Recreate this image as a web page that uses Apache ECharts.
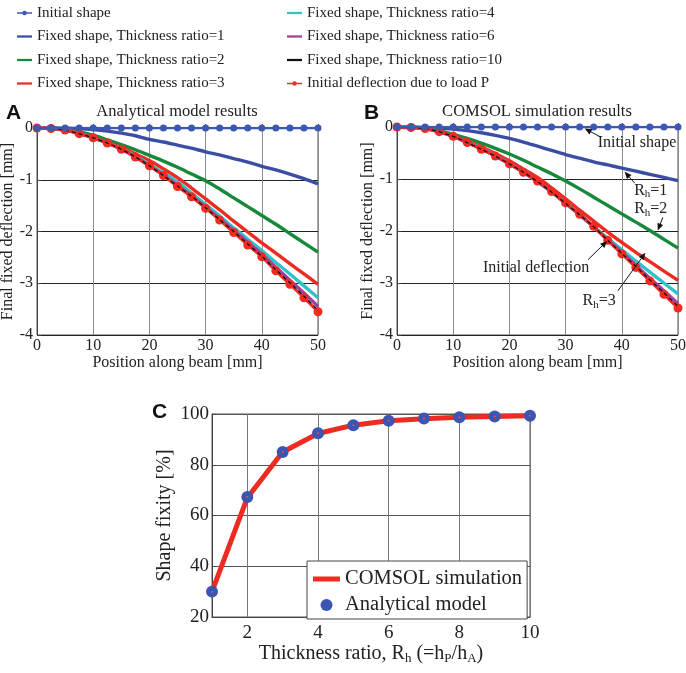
<!DOCTYPE html>
<html>
<head>
<meta charset="utf-8">
<title>Shape fixity</title>
<script src="https://cdn.jsdelivr.net/npm/echarts@6/dist/echarts.min.js"></script>
<style>
  html, body { margin: 0; padding: 0; background: #fff; }
  #chart { width: 686px; height: 673px; }
</style>
</head>
<body>
<div id="chart"></div>
<script>
// ---- data ----
var positions = [0, 2.5, 5, 7.5, 10, 12.5, 15, 17.5, 20, 22.5, 25, 27.5, 30, 32.5, 35, 37.5, 40, 42.5, 45, 47.5, 50];

var seriesNames = [
  'Initial shape',
  'Fixed shape, Thickness ratio=1',
  'Fixed shape, Thickness ratio=2',
  'Fixed shape, Thickness ratio=3',
  'Fixed shape, Thickness ratio=4',
  'Fixed shape, Thickness ratio=6',
  'Fixed shape, Thickness ratio=10',
  'Initial deflection due to load P'
];

// panel A : analytical model
var initialShapeA = [0, 0, 0, 0, 0, 0, 0, 0, 0, 0, 0, 0, 0, 0, 0, 0, 0, 0, 0, 0, 0];
var ratio1A  = [0, 0, 0, -0.01, -0.03, -0.06, -0.10, -0.15, -0.22, -0.27, -0.33, -0.39, -0.46, -0.52, -0.59, -0.66, -0.74, -0.81, -0.89, -0.98, -1.08];
var ratio2A  = [0, 0, -0.02, -0.07, -0.14, -0.23, -0.32, -0.42, -0.53, -0.64, -0.76, -0.89, -1.02, -1.18, -1.35, -1.52, -1.69, -1.86, -2.04, -2.22, -2.40];
var ratio3A  = [0, -0.01, -0.04, -0.10, -0.18, -0.27, -0.38, -0.50, -0.63, -0.79, -0.96, -1.16, -1.37, -1.58, -1.80, -2.01, -2.22, -2.42, -2.62, -2.82, -3.02];
var ratio4A  = [0, -0.01, -0.04, -0.10, -0.19, -0.29, -0.40, -0.54, -0.70, -0.87, -1.04, -1.26, -1.48, -1.70, -1.93, -2.15, -2.37, -2.60, -2.82, -3.05, -3.28];
var ratio6A  = [0, -0.01, -0.04, -0.11, -0.19, -0.29, -0.41, -0.56, -0.73, -0.91, -1.11, -1.31, -1.53, -1.75, -1.98, -2.21, -2.44, -2.69, -2.94, -3.19, -3.45];
var ratio10A = [0, -0.01, -0.04, -0.11, -0.19, -0.29, -0.41, -0.56, -0.73, -0.92, -1.12, -1.32, -1.54, -1.77, -2.00, -2.24, -2.48, -2.74, -2.99, -3.25, -3.52];
var deflectionA = [0, -0.01, -0.04, -0.11, -0.19, -0.29, -0.41, -0.56, -0.73, -0.92, -1.13, -1.33, -1.55, -1.78, -2.02, -2.26, -2.49, -2.76, -3.02, -3.28, -3.55];

// panel B : COMSOL simulation
var initialShapeB = [0, 0, 0, 0, 0, 0, 0, 0, 0, 0, 0, 0, 0, 0, 0, 0, 0, 0, 0, 0, 0];
var ratio1B  = [0, 0, -0.01, -0.02, -0.04, -0.07, -0.11, -0.16, -0.22, -0.29, -0.37, -0.45, -0.53, -0.60, -0.67, -0.73, -0.79, -0.85, -0.91, -0.97, -1.03];
var ratio2B  = [0, 0, -0.02, -0.07, -0.14, -0.22, -0.31, -0.41, -0.52, -0.64, -0.77, -0.90, -1.04, -1.19, -1.35, -1.51, -1.67, -1.83, -1.99, -2.16, -2.33];
var ratio3B  = [0, -0.01, -0.03, -0.09, -0.17, -0.27, -0.38, -0.51, -0.65, -0.81, -0.97, -1.17, -1.38, -1.60, -1.81, -2.02, -2.22, -2.41, -2.59, -2.77, -2.95];
var ratio4B  = [0, -0.01, -0.03, -0.09, -0.18, -0.29, -0.41, -0.55, -0.70, -0.87, -1.05, -1.25, -1.46, -1.68, -1.92, -2.14, -2.36, -2.58, -2.79, -3.00, -3.21];
var ratio6B  = [0, -0.01, -0.03, -0.09, -0.18, -0.30, -0.42, -0.56, -0.71, -0.87, -1.05, -1.25, -1.47, -1.69, -1.92, -2.17, -2.41, -2.66, -2.91, -3.15, -3.40];
var ratio10B = [0, -0.01, -0.03, -0.09, -0.18, -0.30, -0.43, -0.56, -0.71, -0.87, -1.05, -1.25, -1.47, -1.69, -1.92, -2.18, -2.43, -2.68, -2.94, -3.19, -3.45];
var deflectionB = [0, -0.01, -0.03, -0.09, -0.18, -0.30, -0.43, -0.56, -0.71, -0.87, -1.04, -1.24, -1.46, -1.68, -1.91, -2.18, -2.44, -2.70, -2.96, -3.22, -3.48];

// panel C : shape fixity vs thickness ratio
var thicknessRatio = [1, 2, 3, 4, 5, 6, 7, 8, 9, 10];
var comsolFixity = [30, 67, 85, 92.3, 95.6, 97.3, 98.1, 98.7, 99.0, 99.3];
var analyticalFixity = [30, 67.3, 85, 92.4, 95.6, 97.3, 98.2, 98.7, 99.0, 99.3];

// text annotations on panel B, in data units
var annotationsB = [
  { text: 'Initial shape', at: [35.7, -0.30], tail: [36.2, -0.19], head: [33.4, -0.03] },
  { text: 'R{s|h}=1', at: [42.2, -1.22], tail: [42.3, -1.08], head: [40.5, -0.86] },
  { text: 'R{s|h}=2', at: [42.2, -1.57], tail: [47.3, -1.74], head: [46.4, -1.99] },
  { text: 'Initial deflection', at: [15.3, -2.71], tail: [34.0, -2.55], head: [37.4, -2.19] },
  { text: 'R{s|h}=3', at: [33.0, -3.34], tail: [39.3, -3.15], head: [44.2, -2.42] }
];

var colors = {
  shape: '#3d58b0',
  r1: '#3a4ea6',
  r2: '#16893b',
  r3: '#ee2b22',
  r4: '#2fc2c8',
  r6: '#9d40a0',
  r10: '#111111',
  load: '#f02b22',
  dot: '#3a56b2'
};

var serif = '"Liberation Serif", "Times New Roman", serif';
var sans = '"Liberation Sans", Arial, sans-serif';

// legend glyphs
var lineIcon = 'path://M0,0H20V3H0Z';
var lineDotIcon = 'path://M0,3.6H7.2V5.4H0Z M12.8,3.6H20V5.4H12.8Z M7,4.5A3,3 0 1,1 13,4.5A3,3 0 1,1 7,4.5Z';
var thickLineIcon = 'path://M0,0H27V5H0Z';

function pairs(xs, ys) {
  return xs.map(function (x, i) { return [x, ys[i]]; });
}

function beamSeries(idx, shape, fixed, load) {
  var fixedColors = [colors.r1, colors.r2, colors.r3, colors.r4, colors.r6, colors.r10];
  var list = [];
  fixed.forEach(function (ys, i) {
    var isBlack = i === 5;
    list.push({
      name: seriesNames[i + 1],
      type: 'line',
      xAxisIndex: idx,
      yAxisIndex: idx,
      data: pairs(positions, ys),
      symbol: 'none',
      smooth: 0.3,
      z: isBlack ? 4 : 2,
      lineStyle: { color: fixedColors[i], width: isBlack ? 1.3 : 3.4, type: isBlack ? [4, 3] : 'solid' },
      itemStyle: { color: fixedColors[i] }
    });
  });
  list.push({
    name: seriesNames[7],
    type: 'line',
    xAxisIndex: idx,
    yAxisIndex: idx,
    data: pairs(positions, load),
    symbol: 'circle',
    symbolSize: 9,
    smooth: 0.3,
    z: 3,
    lineStyle: { color: colors.load, width: 3 },
    itemStyle: { color: colors.load }
  });
  list.push({
    name: seriesNames[0],
    type: 'line',
    xAxisIndex: idx,
    yAxisIndex: idx,
    data: pairs(positions, shape),
    symbol: 'circle',
    symbolSize: 7,
    z: 5,
    lineStyle: { color: colors.shape, width: 2.5 },
    itemStyle: { color: colors.shape }
  });
  return list;
}

function beamXAxis(idx) {
  return {
    gridIndex: idx,
    type: 'value',
    min: 0, max: 50, interval: 10,
    name: 'Position along beam [mm]',
    nameLocation: 'middle',
    nameGap: 19,
    nameTextStyle: { fontFamily: serif, fontSize: 16, color: '#222' },
    axisLine: { lineStyle: { color: '#444' } },
    axisTick: { inside: true, length: 4, lineStyle: { color: '#444' } },
    axisLabel: { fontFamily: serif, fontSize: 16, color: '#222', margin: 3 },
    splitLine: { show: true, lineStyle: { color: '#8c8c8c', width: 1 } }
  };
}

function beamYAxis(idx) {
  return {
    gridIndex: idx,
    type: 'value',
    min: -4, max: 0, interval: 1,
    name: 'Final fixed deflection [mm]',
    nameLocation: 'middle',
    nameGap: 21,
    nameTextStyle: { fontFamily: serif, fontSize: 16, color: '#222' },
    axisLine: { show: true, lineStyle: { color: '#444' } },
    axisTick: { inside: true, length: 4, lineStyle: { color: '#444' } },
    axisLabel: { fontFamily: serif, fontSize: 16, color: '#222', margin: 4 },
    splitLine: { show: true, lineStyle: { color: '#222', width: 1 } }
  };
}

var subRich = {
  s: { fontFamily: serif, fontSize: 13, color: '#222', padding: [10, 0, 0, 0] }
};

var legendText = { fontFamily: serif, fontSize: 15, color: '#222', lineHeight: 18 };

function legendItems(names) {
  return names.map(function (n) {
    var dotted = n === seriesNames[0] || n === seriesNames[7];
    return { name: n, icon: dotted ? lineDotIcon : lineIcon };
  });
}

var option = {
  animation: false,
  backgroundColor: '#fff',
  grid: [
    { left: 37, top: 128, width: 281, height: 207, show: true, borderColor: '#555', borderWidth: 1, outerBoundsMode: 'none', containLabel: false },
    { left: 397, top: 127, width: 281, height: 208, show: true, borderColor: '#555', borderWidth: 1, outerBoundsMode: 'none', containLabel: false },
    { left: 212, top: 414, width: 318, height: 203, show: true, borderColor: '#555', borderWidth: 1, outerBoundsMode: 'none', containLabel: false }
  ],
  legend: [
    {
      left: 17, top: 4, orient: 'vertical', padding: 0,
      data: legendItems(seriesNames.slice(0, 4)),
      itemWidth: 15, itemHeight: 8, itemGap: 5.5,
      textStyle: legendText,
      selectedMode: false
    },
    {
      left: 287, top: 4, orient: 'vertical', padding: 0,
      data: legendItems(seriesNames.slice(4)),
      itemWidth: 15, itemHeight: 8, itemGap: 5.5,
      textStyle: legendText,
      selectedMode: false
    },
    {
      left: 307, top: 561, orient: 'vertical',
      data: [
        { name: 'COMSOL simulation', icon: thickLineIcon },
        { name: 'Analytical model', icon: 'circle' }
      ],
      itemWidth: 27, itemHeight: 12, itemGap: 4,
      padding: [7, 5, 3, 6],
      borderColor: '#444', borderWidth: 1,
      backgroundColor: '#fff',
      textStyle: { fontFamily: serif, fontSize: 20.5, color: '#222', lineHeight: 22 },
      selectedMode: false
    }
  ],
  xAxis: [
    beamXAxis(0),
    beamXAxis(1),
    {
      gridIndex: 2,
      type: 'value',
      min: 1, max: 10, interval: 1,
      name: 'Thickness ratio, R{s|h} (=h{s|P}/h{s|A})',
      nameLocation: 'middle',
      nameGap: 24,
      nameTextStyle: { fontFamily: serif, fontSize: 20, color: '#222', rich: subRich },
      axisLine: { lineStyle: { color: '#444' } },
      axisTick: { show: false },
      axisLabel: {
        fontFamily: serif, fontSize: 19, color: '#222', margin: 7,
        formatter: function (v) { return v % 2 === 0 ? String(v) : ''; }
      },
      splitLine: { show: true, lineStyle: { color: ['transparent', '#777'], width: 1 } }
    }
  ],
  yAxis: [
    beamYAxis(0),
    beamYAxis(1),
    {
      gridIndex: 2,
      type: 'value',
      min: 20, max: 100, interval: 20,
      name: 'Shape fixity [%]',
      nameLocation: 'middle',
      nameGap: 37,
      nameTextStyle: { fontFamily: serif, fontSize: 20, color: '#222' },
      axisLine: { show: true, lineStyle: { color: '#444' } },
      axisTick: { inside: true, length: 4, lineStyle: { color: '#444' } },
      axisLabel: { fontFamily: serif, fontSize: 19, color: '#222', margin: 3 },
      splitLine: { show: true, lineStyle: { color: '#555', width: 1 } }
    }
  ],
  series: []
    .concat(beamSeries(0, initialShapeA, [ratio1A, ratio2A, ratio3A, ratio4A, ratio6A, ratio10A], deflectionA))
    .concat(beamSeries(1, initialShapeB, [ratio1B, ratio2B, ratio3B, ratio4B, ratio6B, ratio10B], deflectionB))
    .concat([
      {
        name: 'COMSOL simulation',
        type: 'line',
        xAxisIndex: 2,
        yAxisIndex: 2,
        data: pairs(thicknessRatio, comsolFixity),
        symbol: 'none',
        lineStyle: { color: colors.r3, width: 5 },
        itemStyle: { color: colors.r3 }
      },
      {
        name: 'Analytical model',
        type: 'scatter',
        xAxisIndex: 2,
        yAxisIndex: 2,
        data: pairs(thicknessRatio, analyticalFixity),
        symbol: 'circle',
        symbolSize: 12,
        z: 3,
        itemStyle: { color: colors.dot, opacity: 1 }
      },
      {
        // small centre dot seen inside each analytical marker
        type: 'scatter',
        xAxisIndex: 2,
        yAxisIndex: 2,
        data: pairs(thicknessRatio, analyticalFixity),
        symbol: 'circle',
        symbolSize: 2,
        z: 4,
        silent: true,
        itemStyle: { color: '#f04a40', opacity: 1 }
      }
    ])
};

var chart = echarts.init(document.getElementById('chart'), null, { renderer: 'canvas' });
chart.setOption(option);

// static labels + arrows (arrows placed from data coords of panel B)
var graphics = [
  { type: 'text', style: { text: 'A', x: 6, y: 113, fontFamily: sans, fontSize: 21, fontWeight: 'bold', fill: '#111', verticalAlign: 'middle' } },
  { type: 'text', style: { text: 'B', x: 364, y: 113, fontFamily: sans, fontSize: 21, fontWeight: 'bold', fill: '#111', verticalAlign: 'middle' } },
  { type: 'text', style: { text: 'C', x: 152, y: 412, fontFamily: sans, fontSize: 21, fontWeight: 'bold', fill: '#111', verticalAlign: 'middle' } },
  { type: 'text', style: { text: 'Analytical model results', x: 177, y: 112, fontFamily: serif, fontSize: 16.5, fill: '#222', align: 'center', verticalAlign: 'middle' } },
  { type: 'text', style: { text: 'COMSOL simulation results', x: 537, y: 112, fontFamily: serif, fontSize: 16.5, fill: '#222', align: 'center', verticalAlign: 'middle' } }
];

annotationsB.forEach(function (a) {
  var p = chart.convertToPixel({ gridIndex: 1 }, a.at);
  var t = chart.convertToPixel({ gridIndex: 1 }, a.tail);
  var h = chart.convertToPixel({ gridIndex: 1 }, a.head);
  var dx = h[0] - t[0], dy = h[1] - t[1];
  var len = Math.sqrt(dx * dx + dy * dy) || 1;
  var ux = dx / len, uy = dy / len;
  var bx = h[0] - ux * 7, by = h[1] - uy * 7;
  graphics.push({
    type: 'text', z: 10,
    style: {
      text: a.text, x: p[0], y: p[1], fontFamily: serif, fontSize: 16, fill: '#222',
      verticalAlign: 'middle', rich: { s: { fontFamily: serif, fontSize: 11, fill: '#222', padding: [8, 0, 0, 0] } }
    }
  });
  graphics.push({
    type: 'line', z: 10,
    shape: { x1: t[0], y1: t[1], x2: bx, y2: by },
    style: { stroke: '#111', lineWidth: 1 }
  });
  graphics.push({
    type: 'polygon', z: 10,
    shape: { points: [[h[0], h[1]], [bx - uy * 3, by + ux * 3], [bx + uy * 3, by - ux * 3]] },
    style: { fill: '#111' }
  });
});

chart.setOption({ graphic: graphics });

window.addEventListener('resize', chart.resize);
</script>
</body>
</html>
